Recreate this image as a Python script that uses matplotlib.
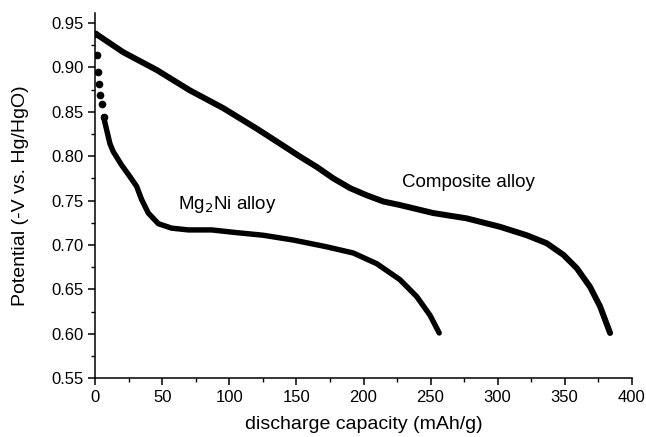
import matplotlib
matplotlib.use("Agg")
import matplotlib.pyplot as plt
from matplotlib.ticker import MultipleLocator, FormatStrFormatter

plt.rcParams['font.family'] = ['Liberation Sans', 'DejaVu Sans']

# composite alloy discharge curve
comp_x = [0, 20.7, 45.7, 70.5, 95.4, 120.3, 145, 152.6, 165, 177.5, 190, 202.4,
          214.8, 227.2, 252, 277, 301.9, 321.8, 336.7, 349.1, 359.1, 369,
          376.5, 384]
comp_y = [0.938, 0.917, 0.897, 0.874, 0.854, 0.831, 0.807, 0.7995, 0.788, 0.775,
          0.764, 0.756, 0.749, 0.745, 0.736, 0.730, 0.7205, 0.711, 0.702, 0.689,
          0.674, 0.653, 0.631, 0.601]

# Mg2Ni alloy: first points are separate dots, then a dense curve
mg_dot_x = [0, 1.3, 1.9, 2.6, 3.6, 4.9, 6.1]
mg_dot_y = [0.938, 0.914, 0.895, 0.881, 0.869, 0.859, 0.844]
mg_x = [6.1, 7.8, 10.8, 13.3, 19.5, 25.7, 30.7, 34.5, 39.4, 46.9, 56.8, 69.3,
        86.7, 105, 125.2, 147.6, 172.5, 192.4, 209.9, 227.2, 239.7, 249.6, 256.5]
mg_y = [0.844, 0.833, 0.814, 0.805, 0.790, 0.777, 0.766, 0.751, 0.736, 0.724,
        0.719, 0.717, 0.717, 0.714, 0.711, 0.7056, 0.698, 0.691, 0.679, 0.661,
        0.642, 0.621, 0.601]

fig = plt.figure(figsize=(6.46, 4.37), dpi=100)
ax = fig.add_axes([0.1478, 0.1343, 0.8298, 0.8357])

ax.plot(comp_x, comp_y, color='black', lw=4.3, solid_capstyle='round',
        solid_joinstyle='round')
ax.plot(mg_x, mg_y, color='black', lw=3.9, solid_capstyle='round',
        solid_joinstyle='round')
ax.plot(mg_dot_x, mg_dot_y, 'o', color='black', ms=4.5)

ax.text(228.7, 0.770, 'Composite alloy', fontsize=13.5, va='center')
ax.text(61.6, 0.746, 'Mg$_2$Ni alloy', fontsize=13.5, va='center')

ax.set_xlim(0, 400)
ax.set_ylim(0.55, 0.961)
ax.xaxis.set_major_locator(MultipleLocator(50))
ax.xaxis.set_minor_locator(MultipleLocator(25))
ax.yaxis.set_major_locator(MultipleLocator(0.05))
ax.yaxis.set_minor_locator(MultipleLocator(0.025))
ax.yaxis.set_major_formatter(FormatStrFormatter('%.2f'))

for s in ['top', 'right']:
    ax.spines[s].set_visible(False)
for s in ['left', 'bottom']:
    ax.spines[s].set_linewidth(1.1)

ax.tick_params(which='major', direction='out', length=5, width=1.1, labelsize=12, pad=3.5)
ax.tick_params(which='minor', direction='out', length=3, width=1.0)

ax.set_xlabel('discharge capacity (mAh/g)', fontsize=14)
ax.set_ylabel('Potential (-V vs. Hg/HgO)', fontsize=14)
ax.xaxis.set_label_coords(0.5, -0.104)
ax.yaxis.set_label_coords(-0.124, 0.5)

fig.savefig('out.png', dpi=100)
